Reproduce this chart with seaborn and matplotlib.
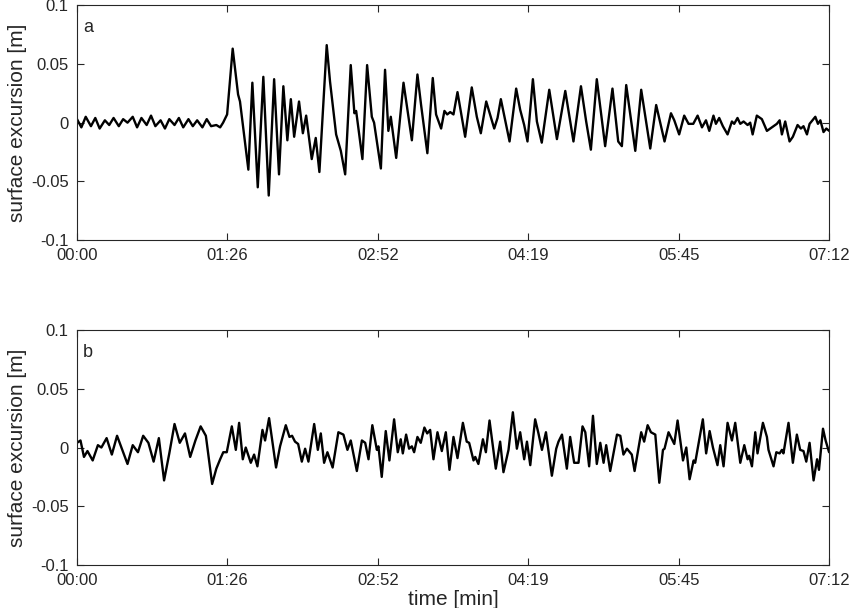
import numpy as np
import pandas as pd
import matplotlib
matplotlib.use("Agg")
import matplotlib.pyplot as plt
import seaborn as sns

# time in seconds, surface excursion in metres
time_a = [0, 2.5, 5, 8, 10.5, 13, 16, 18.5, 21, 24, 26.5, 29, 32, 34.5, 37, 40, 42.5, 45, 48, 50.5,
          53, 56, 58.5, 61, 64, 66.5, 69, 72, 74.5, 77, 80,
          82.2, 83.9, 86.2, 89.4, 92.5, 93.6, 98.4, 100.7, 103.8, 107.0, 110.1, 113.2, 116.0, 118.5,
          120.8, 122.8, 124.7, 127.5, 129.7, 131.6, 134.8, 137.1, 139.2, 143.4, 145.3, 148.8, 151.5,
          154.0, 157.2, 159.3, 160.3, 163.9, 166.6, 169.3, 170.6, 174.5, 176.9, 178.8, 180.2, 183.3,
          187.5, 192.3, 195.5, 197.6, 201.2, 204.3, 206.2, 209.1, 211.0, 212.6, 214.3, 216.2, 218.5,
          222.9, 226.7, 229.6, 231.9, 235.0, 239.6, 241.5, 243.4, 248.4, 252.2, 254.5, 256.8, 258.7,
          261.8, 264.1, 266.9, 271.2, 275.6, 280.4, 285.1, 289.4, 292.4, 295.1, 298.5, 303.3, 307.5,
          310.8, 312.9, 315.4, 320.6, 324.0, 329.2, 332.6, 337.4, 341.1, 343.0, 345.8, 348.7, 351.2,
          353.9, 356.4, 358.9, 361.2, 363.1, 365.5, 366.9, 368.8, 370.9, 373.6, 376.1, 377.4, 379.3,
          380.9, 382.8, 385.1, 386.6, 388.0, 390.4, 393.3, 396.2, 399.1, 401.9, 403.5, 404.8, 406.7,
          409.2, 411.1, 413.8, 415.7, 417.2, 419.2, 420.7, 424.0, 425.5, 426.9, 428.7, 430.3, 432.0]
surf_a = [0.003, -0.004, 0.005, -0.003, 0.004, -0.005, 0.002, -0.002, 0.004, -0.003, 0.003, 0.000,
          0.005, -0.004, 0.004, -0.002, 0.006, -0.003, 0.002, -0.005, 0.003, -0.002, 0.004, -0.004,
          0.003, -0.003, 0.002, -0.004, 0.003, -0.003, -0.002,
          -0.004, 0.000, 0.007, 0.063, 0.024, 0.018, -0.040, 0.034, -0.055, 0.039, -0.062, 0.037,
          -0.044, 0.031, -0.015, 0.020, -0.012, 0.018, -0.009, 0.006, -0.031, -0.013, -0.042, 0.066,
          0.035, -0.010, -0.024, -0.044, 0.049, 0.008, 0.010, -0.031, 0.049, 0.005, 0.000, -0.039,
          0.045, -0.007, 0.005, -0.030, 0.034, -0.015, 0.041, 0.015, -0.026, 0.038, 0.007, -0.005,
          0.010, 0.007, 0.009, 0.007, 0.026, -0.012, 0.030, 0.005, -0.009, 0.018, -0.005, 0.004,
          0.020, -0.016, 0.029, 0.011, -0.002, -0.016, 0.037, 0.001, -0.017, 0.028, -0.014, 0.027,
          -0.016, 0.031, 0.001, -0.023, 0.037, -0.020, 0.029, -0.016, -0.020, 0.032, -0.024, 0.028,
          -0.022, 0.015, -0.016, 0.008, 0.002, -0.010, 0.006, -0.001, -0.001, 0.006, -0.004, 0.002,
          -0.007, 0.006, -0.001, 0.004, -0.003, -0.010, 0.001, -0.001, 0.004, -0.001, 0.001, -0.002,
          0.000, -0.010, 0.006, 0.003, -0.007, -0.004, -0.001, 0.002, -0.010, 0.001, -0.016, -0.012,
          -0.002, -0.005, -0.003, -0.010, -0.001, 0.005, -0.001, 0.002, -0.008, -0.005, -0.007]

time_b = [0, 2, 4, 6, 9, 12, 14, 17, 20, 23, 26, 29, 32, 35, 38, 41, 44, 47, 50, 53, 56, 59, 62,
          65, 68, 71, 74, 77.6, 80,
          82.2, 84.0, 86.0, 88.9, 91.2, 93.1, 95.2, 96.9, 99.8, 101.7, 103.6, 106.5, 108.0, 110.3,
          114.3, 116.6, 119.9, 122.0, 123.5, 125.2, 127.0, 129.1, 131.0, 132.9, 136.2, 138.3, 140.0,
          141.9, 143.8, 146.8, 150.1, 153.0, 155.3, 157.2, 160.7, 163.6, 165.5, 167.4, 169.6, 172.2,
          173.1, 175.0, 177.3, 179.4, 182.1, 184.2, 185.9, 187.1, 189.0, 190.7, 192.3, 193.6, 195.5,
          197.4, 199.5, 201.1, 202.8, 204.7, 207.0, 209.5, 211.8, 213.9, 216.2, 218.5, 221.6, 223.8,
          225.2, 227.7, 228.7, 230.5, 233.1, 234.8, 236.9, 240.5, 243.0, 244.9, 247.8, 250.3, 252.6,
          254.5, 256.8, 258.4, 260.3, 263.1, 265.0, 267.0, 269.3, 272.7, 275.2, 276.5, 278.5, 281.3,
          283.2, 285.5, 288.0, 290.3, 291.9, 294.1, 296.3, 298.5, 300.5, 302.4, 303.9, 306.2, 310.1,
          312.0, 313.8, 315.8, 318.6, 320.2, 324.0, 325.7, 327.7, 329.6, 332.1, 334.4, 336.5, 337.4,
          339.7, 343.0, 344.9, 348.0, 349.9, 351.8, 354.1, 355.0, 359.4, 361.3, 363.3, 365.2, 367.8,
          369.4, 371.3, 373.6, 376.1, 378.0, 380.9, 383.2, 385.1, 386.0, 387.6, 389.5, 390.8, 393.9,
          396.2, 397.1, 400.0, 401.6, 403.5, 404.8, 405.7, 408.6, 411.1, 413.4, 415.3, 417.2, 418.8,
          420.7, 423.0, 425.0, 426.1, 428.4, 429.9, 431.9]
surf_b = [0.004, 0.006, -0.008, -0.003, -0.011, 0.002, 0.000, 0.008, -0.006, 0.010, -0.002, -0.014,
          0.002, -0.004, 0.010, 0.004, -0.012, 0.008, -0.028, -0.005, 0.020, 0.004, 0.012, -0.008,
          0.006, 0.018, 0.010, -0.031, -0.018,
          -0.010, -0.004, -0.004, 0.018, -0.002, 0.021, -0.010, 0.000, -0.013, -0.006, -0.016, 0.015,
          0.006, 0.025, -0.017, 0.001, 0.019, 0.009, 0.010, 0.005, 0.003, -0.012, -0.001, -0.012,
          0.020, -0.002, 0.012, -0.013, -0.004, -0.017, 0.013, 0.011, -0.002, 0.006, -0.020, 0.006,
          0.004, -0.010, 0.019, -0.002, 0.001, -0.025, 0.014, -0.011, 0.024, -0.004, 0.007, -0.005,
          0.011, -0.001, 0.001, -0.004, 0.009, 0.004, 0.017, 0.012, 0.015, -0.010, 0.013, -0.003,
          0.013, -0.019, 0.009, -0.009, 0.021, 0.005, 0.004, -0.011, -0.008, -0.014, 0.007, -0.004,
          0.023, -0.018, 0.005, -0.021, -0.002, 0.030, -0.001, 0.013, -0.010, 0.005, -0.015, 0.024,
          0.012, -0.002, 0.013, -0.024, -0.001, 0.005, 0.011, -0.018, 0.009, -0.013, -0.013, 0.018,
          0.013, -0.016, 0.027, -0.014, 0.004, -0.013, 0.002, -0.020, 0.011, 0.010, -0.006, -0.001,
          -0.006, -0.020, 0.013, 0.005, 0.019, 0.013, 0.011, -0.030, -0.002, -0.001, 0.013, 0.003,
          0.023, -0.011, 0.000, -0.027, -0.011, -0.013, 0.024, -0.005, 0.014, 0.000, -0.015, 0.002,
          -0.016, 0.021, 0.006, 0.021, -0.013, 0.002, -0.010, -0.007, -0.016, 0.013, -0.005, 0.021,
          0.009, -0.002, -0.016, -0.004, -0.005, -0.002, -0.005, 0.021, -0.013, 0.011, -0.002,
          -0.003, -0.012, 0.004, -0.028, -0.010, -0.019, 0.016, 0.006, -0.004]

xtick_pos = [0, 86.4, 172.8, 259.2, 345.6, 432]
xtick_labels = ["00:00", "01:26", "02:52", "04:19", "05:45", "07:12"]
ytick_pos = [-0.1, -0.05, 0, 0.05, 0.1]
ytick_labels = ["-0.1", "-0.05", "0", "0.05", "0.1"]

sns.set_style("ticks")
plt.rcParams['font.family'] = ['Liberation Sans', 'DejaVu Sans']

fig = plt.figure(figsize=(8.5, 6.08), dpi=100)
ax_a = fig.add_axes([0.0906, 0.605, 0.885, 0.3865])
ax_b = fig.add_axes([0.0906, 0.0707, 0.885, 0.3865])

panels = [(ax_a, time_a, surf_a, "a"), (ax_b, time_b, surf_b, "b")]
for ax, t, v, letter in panels:
    df = pd.DataFrame({"t": t, "v": v})
    sns.lineplot(data=df, x="t", y="v", ax=ax, color="black", linewidth=1.7, sort=False)
    ax.set_xlim(0, 432)
    ax.set_ylim(-0.1, 0.1)
    ax.set_xticks(xtick_pos)
    ax.set_xticklabels(xtick_labels)
    ax.set_yticks(ytick_pos)
    ax.set_yticklabels(ytick_labels)
    ax.tick_params(direction="in", top=True, right=True, labelsize=12, length=5, width=0.8, pad=6)
    for s in ax.spines.values():
        s.set_linewidth(0.8)
        s.set_visible(True)
    ax.set_ylabel("surface excursion [m]", fontsize=15, labelpad=3)
    ax.set_xlabel("")
    ax.text(0.008, 0.905, letter, transform=ax.transAxes, fontsize=13, va="center", ha="left")

ax_b.set_xlabel("time [min]", fontsize=15, labelpad=1)

fig.savefig("out.png", dpi=100)
